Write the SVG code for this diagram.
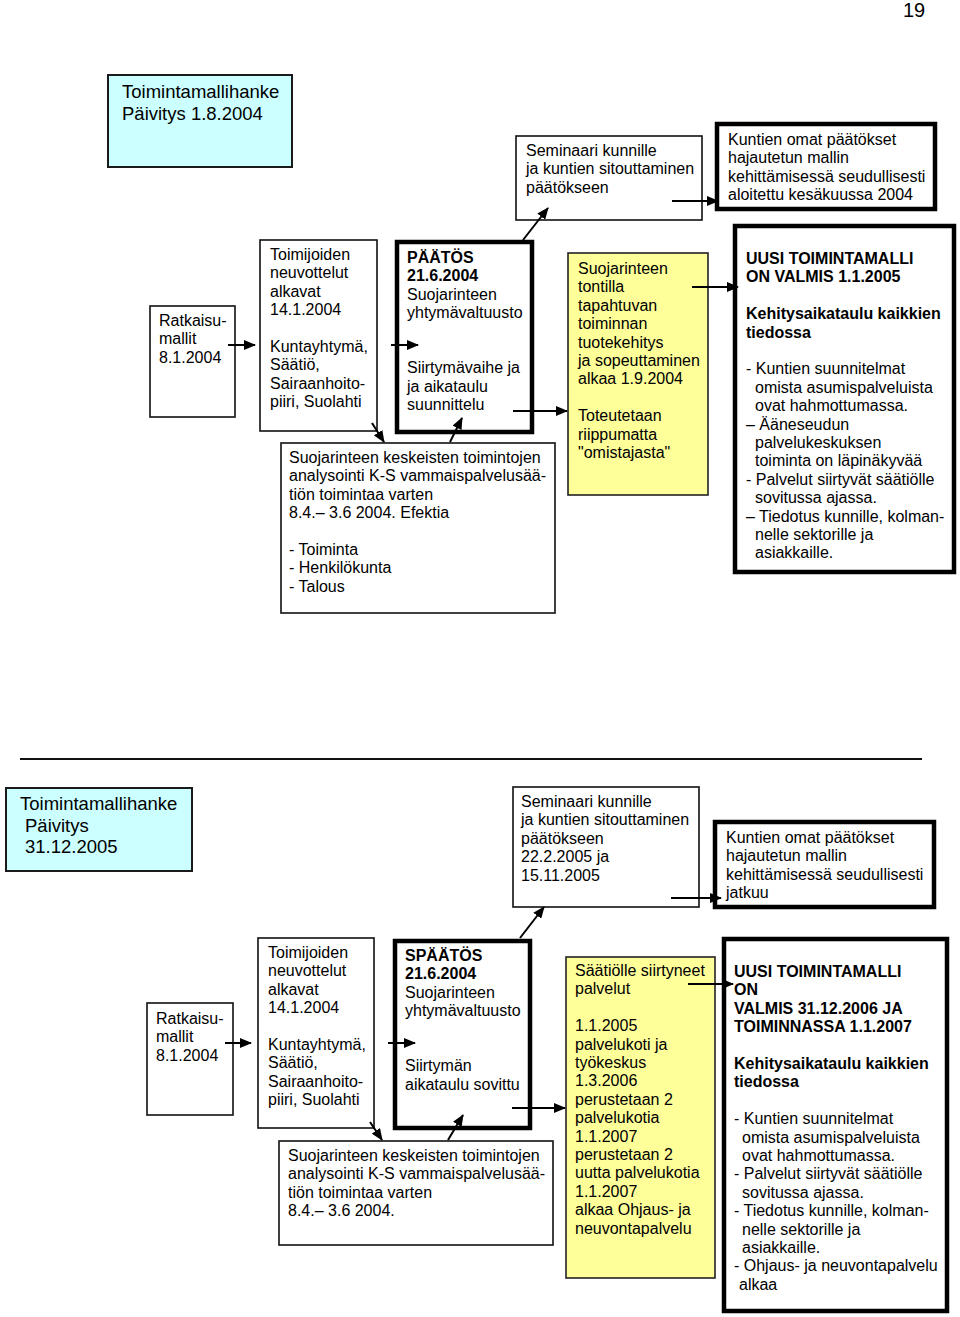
<svg xmlns="http://www.w3.org/2000/svg" width="960" height="1317" viewBox="0 0 960 1317">
<style>
.t{font-family:"Liberation Sans",Arial,sans-serif;font-size:16px;fill:#000}
.h{font-size:18.5px}
.b{font-weight:bold}
.thin{fill:#fff;stroke:#111;stroke-width:1.6}
.thick{fill:#fff;stroke:#000;stroke-width:4.5}
.cyan{fill:#ccffff;stroke:#1a1a1a;stroke-width:2}
.yel{fill:#ffff99;stroke:#222;stroke-width:1.6}
.c{stroke:#000;stroke-width:2;fill:none;marker-end:url(#ah)}
</style>
<defs>
<marker id="ah" markerUnits="userSpaceOnUse" markerWidth="12" markerHeight="10" refX="11" refY="5" orient="auto">
<path d="M0,0 L12,5 L0,10 Z" fill="#000"/>
</marker>
</defs>
<rect width="960" height="1317" fill="#fff"/>
<text class="t" x="903" y="17" style="font-size:20px">19</text>

<!-- TOP SECTION -->
<g id="top-title"><rect class="cyan" x="108" y="75" width="184" height="92"/>
<text class="t h" x="122" y="98"><tspan x="122">Toimintamallihanke</tspan><tspan x="122" dy="22">Päivitys 1.8.2004</tspan></text></g>

<g id="top-seminar"><rect class="thin" x="516" y="136" width="186" height="84"/>
<text class="t" x="526" y="156"><tspan x="526">Seminaari kunnille</tspan><tspan x="526" dy="18.4">ja kuntien sitouttaminen</tspan><tspan x="526" dy="18.4">päätökseen</tspan></text></g>

<g id="top-kuntien"><rect class="thick" x="717" y="124" width="218" height="85"/>
<text class="t" x="728" y="145"><tspan x="728">Kuntien omat päätökset</tspan><tspan x="728" dy="18.4">hajautetun mallin</tspan><tspan x="728" dy="18.4">kehittämisessä seudullisesti</tspan><tspan x="728" dy="18.4">aloitettu kesäkuussa 2004</tspan></text></g>

<g id="top-ratkaisu"><rect class="thin" x="150" y="306" width="85" height="111"/>
<text class="t" x="159" y="326"><tspan x="159">Ratkaisu-</tspan><tspan x="159" dy="18.4">mallit</tspan><tspan x="159" dy="18.4">8.1.2004</tspan></text></g>

<g id="top-toimijoiden"><rect class="thin" x="260" y="240" width="117" height="191"/>
<text class="t" x="270" y="260"><tspan x="270">Toimijoiden</tspan><tspan x="270" dy="18.4">neuvottelut</tspan><tspan x="270" dy="18.4">alkavat</tspan><tspan x="270" dy="18.4">14.1.2004</tspan><tspan x="270" dy="36.8">Kuntayhtymä,</tspan><tspan x="270" dy="18.4">Säätiö,</tspan><tspan x="270" dy="18.4">Sairaanhoito-</tspan><tspan x="270" dy="18.4">piiri, Suolahti</tspan></text></g>

<g id="top-paatos"><rect class="thick" x="397" y="242" width="135" height="190"/>
<text class="t" x="407" y="263"><tspan x="407" class="b">PÄÄTÖS</tspan><tspan x="407" dy="18.4" class="b">21.6.2004</tspan><tspan x="407" dy="18.4">Suojarinteen</tspan><tspan x="407" dy="18.4">yhtymävaltuusto</tspan><tspan x="407" dy="55.2">Siirtymävaihe ja</tspan><tspan x="407" dy="18.4">ja aikataulu</tspan><tspan x="407" dy="18.4">suunnittelu</tspan></text></g>

<g id="top-analysis"><rect class="thin" x="281" y="443" width="274" height="170"/>
<text class="t" x="289" y="463"><tspan x="289">Suojarinteen keskeisten toimintojen</tspan><tspan x="289" dy="18.4">analysointi K-S vammaispalvelusää-</tspan><tspan x="289" dy="18.4">tiön toimintaa varten</tspan><tspan x="289" dy="18.4">8.4.– 3.6 2004. Efektia</tspan><tspan x="289" dy="36.8">- Toiminta</tspan><tspan x="289" dy="18.4">- Henkilökunta</tspan><tspan x="289" dy="18.4">- Talous</tspan></text></g>

<g id="top-yellow"><rect class="yel" x="568" y="253" width="140" height="242"/>
<text class="t" x="578" y="274"><tspan x="578">Suojarinteen</tspan><tspan x="578" dy="18.4">tontilla</tspan><tspan x="578" dy="18.4">tapahtuvan</tspan><tspan x="578" dy="18.4">toiminnan</tspan><tspan x="578" dy="18.4">tuotekehitys</tspan><tspan x="578" dy="18.4">ja sopeuttaminen</tspan><tspan x="578" dy="18.4">alkaa 1.9.2004</tspan><tspan x="578" dy="36.8">Toteutetaan</tspan><tspan x="578" dy="18.4">riippumatta</tspan><tspan x="578" dy="18.4">"omistajasta"</tspan></text></g>

<g id="top-uusi"><rect class="thick" x="735" y="226" width="219" height="346"/>
<text class="t" x="746" y="264"><tspan x="746" class="b">UUSI TOIMINTAMALLI</tspan><tspan x="746" dy="18.4" class="b">ON VALMIS 1.1.2005</tspan><tspan x="746" dy="36.8" class="b">Kehitysaikataulu kaikkien</tspan><tspan x="746" dy="18.4" class="b">tiedossa</tspan><tspan x="746" dy="36.8">- Kuntien suunnitelmat</tspan><tspan x="755" dy="18.4">omista asumispalveluista</tspan><tspan x="755" dy="18.4">ovat hahmottumassa.</tspan><tspan x="746" dy="18.4">– Ääneseudun</tspan><tspan x="755" dy="18.4">palvelukeskuksen</tspan><tspan x="755" dy="18.4">toiminta on läpinäkyvää</tspan><tspan x="746" dy="18.4">- Palvelut siirtyvät säätiölle</tspan><tspan x="755" dy="18.4">sovitussa ajassa.</tspan><tspan x="746" dy="18.4">– Tiedotus kunnille, kolman-</tspan><tspan x="755" dy="18.4">nelle sektorille ja</tspan><tspan x="755" dy="18.4">asiakkaille.</tspan></text></g>

<line x1="20" y1="759" x2="922" y2="759" stroke="#111" stroke-width="2"/>

<!-- BOTTOM SECTION -->
<g id="bot-title"><rect class="cyan" x="6" y="788" width="186" height="83"/>
<text class="t h" x="20" y="810"><tspan x="20">Toimintamallihanke</tspan><tspan x="25" dy="21.5">Päivitys</tspan><tspan x="25" dy="21.5">31.12.2005</tspan></text></g>

<g id="bot-seminar"><rect class="thin" x="513" y="787" width="186" height="120"/>
<text class="t" x="521" y="807"><tspan x="521">Seminaari kunnille</tspan><tspan x="521" dy="18.4">ja kuntien sitouttaminen</tspan><tspan x="521" dy="18.4">päätökseen</tspan><tspan x="521" dy="18.4">22.2.2005 ja</tspan><tspan x="521" dy="18.4">15.11.2005</tspan></text></g>

<g id="bot-kuntien"><rect class="thick" x="715" y="822" width="219" height="85"/>
<text class="t" x="726" y="843"><tspan x="726">Kuntien omat päätökset</tspan><tspan x="726" dy="18.4">hajautetun mallin</tspan><tspan x="726" dy="18.4">kehittämisessä seudullisesti</tspan><tspan x="726" dy="18.4">jatkuu</tspan></text></g>

<g id="bot-ratkaisu"><rect class="thin" x="147" y="1003" width="86" height="112"/>
<text class="t" x="156" y="1024"><tspan x="156">Ratkaisu-</tspan><tspan x="156" dy="18.4">mallit</tspan><tspan x="156" dy="18.4">8.1.2004</tspan></text></g>

<g id="bot-toimijoiden"><rect class="thin" x="258" y="938" width="116" height="190"/>
<text class="t" x="268" y="958"><tspan x="268">Toimijoiden</tspan><tspan x="268" dy="18.4">neuvottelut</tspan><tspan x="268" dy="18.4">alkavat</tspan><tspan x="268" dy="18.4">14.1.2004</tspan><tspan x="268" dy="36.8">Kuntayhtymä,</tspan><tspan x="268" dy="18.4">Säätiö,</tspan><tspan x="268" dy="18.4">Sairaanhoito-</tspan><tspan x="268" dy="18.4">piiri, Suolahti</tspan></text></g>

<g id="bot-paatos"><rect class="thick" x="395" y="941" width="135" height="187"/>
<text class="t" x="405" y="961"><tspan x="405" class="b">SPÄÄTÖS</tspan><tspan x="405" dy="18.4" class="b">21.6.2004</tspan><tspan x="405" dy="18.4">Suojarinteen</tspan><tspan x="405" dy="18.4">yhtymävaltuusto</tspan><tspan x="405" dy="55.2">Siirtymän</tspan><tspan x="405" dy="18.4">aikataulu sovittu</tspan></text></g>

<g id="bot-analysis"><rect class="thin" x="279" y="1141" width="274" height="104"/>
<text class="t" x="288" y="1161"><tspan x="288">Suojarinteen keskeisten toimintojen</tspan><tspan x="288" dy="18.4">analysointi K-S vammaispalvelusää-</tspan><tspan x="288" dy="18.4">tiön toimintaa varten</tspan><tspan x="288" dy="18.4">8.4.– 3.6 2004.</tspan></text></g>

<g id="bot-yellow"><rect class="yel" x="566" y="957" width="149" height="321"/>
<text class="t" x="575" y="976"><tspan x="575">Säätiölle siirtyneet</tspan><tspan x="575" dy="18.4">palvelut</tspan><tspan x="575" dy="36.8">1.1.2005</tspan><tspan x="575" dy="18.4">palvelukoti ja</tspan><tspan x="575" dy="18.4">työkeskus</tspan><tspan x="575" dy="18.4">1.3.2006</tspan><tspan x="575" dy="18.4">perustetaan 2</tspan><tspan x="575" dy="18.4">palvelukotia</tspan><tspan x="575" dy="18.4">1.1.2007</tspan><tspan x="575" dy="18.4">perustetaan 2</tspan><tspan x="575" dy="18.4">uutta palvelukotia</tspan><tspan x="575" dy="18.4">1.1.2007</tspan><tspan x="575" dy="18.4">alkaa Ohjaus- ja</tspan><tspan x="575" dy="18.4">neuvontapalvelu</tspan></text></g>

<g id="bot-uusi"><rect class="thick" x="724" y="939" width="223" height="372"/>
<text class="t" x="734" y="977"><tspan x="734" class="b">UUSI TOIMINTAMALLI</tspan><tspan x="734" dy="18.4" class="b">ON</tspan><tspan x="734" dy="18.4" class="b">VALMIS 31.12.2006 JA</tspan><tspan x="734" dy="18.4" class="b">TOIMINNASSA 1.1.2007</tspan><tspan x="734" dy="36.8" class="b">Kehitysaikataulu kaikkien</tspan><tspan x="734" dy="18.4" class="b">tiedossa</tspan><tspan x="734" dy="36.8">- Kuntien suunnitelmat</tspan><tspan x="742" dy="18.4">omista asumispalveluista</tspan><tspan x="742" dy="18.4">ovat hahmottumassa.</tspan><tspan x="734" dy="18.4">- Palvelut siirtyvät säätiölle</tspan><tspan x="742" dy="18.4">sovitussa ajassa.</tspan><tspan x="734" dy="18.4">- Tiedotus kunnille, kolman-</tspan><tspan x="742" dy="18.4">nelle sektorille ja</tspan><tspan x="742" dy="18.4">asiakkaille.</tspan><tspan x="734" dy="18.4">- Ohjaus- ja neuvontapalvelu</tspan><tspan x="739" dy="18.4">alkaa</tspan></text></g>

<g id="connectors">
<line class="c" x1="672" y1="201" x2="718" y2="201"/>
<line class="c" x1="228" y1="345" x2="255" y2="345"/>
<line class="c" x1="391" y1="345" x2="418" y2="345"/>
<line class="c" x1="523" y1="240" x2="548" y2="208"/>
<line class="c" x1="513" y1="411" x2="567" y2="411"/>
<line class="c" x1="372" y1="423" x2="384" y2="442"/>
<line class="c" x1="450" y1="442" x2="462" y2="418"/>
<line class="c" x1="692" y1="287" x2="738" y2="287"/>

<line class="c" x1="671" y1="898" x2="721" y2="898"/>
<line class="c" x1="225" y1="1043" x2="251" y2="1043"/>
<line class="c" x1="388" y1="1043" x2="415" y2="1043"/>
<line class="c" x1="520" y1="938" x2="544" y2="907"/>
<line class="c" x1="512" y1="1108" x2="565" y2="1108"/>
<line class="c" x1="370" y1="1122" x2="382" y2="1140"/>
<line class="c" x1="448" y1="1140" x2="463" y2="1115"/>
<line class="c" x1="688" y1="984" x2="733" y2="984"/>
</g>
</svg>
